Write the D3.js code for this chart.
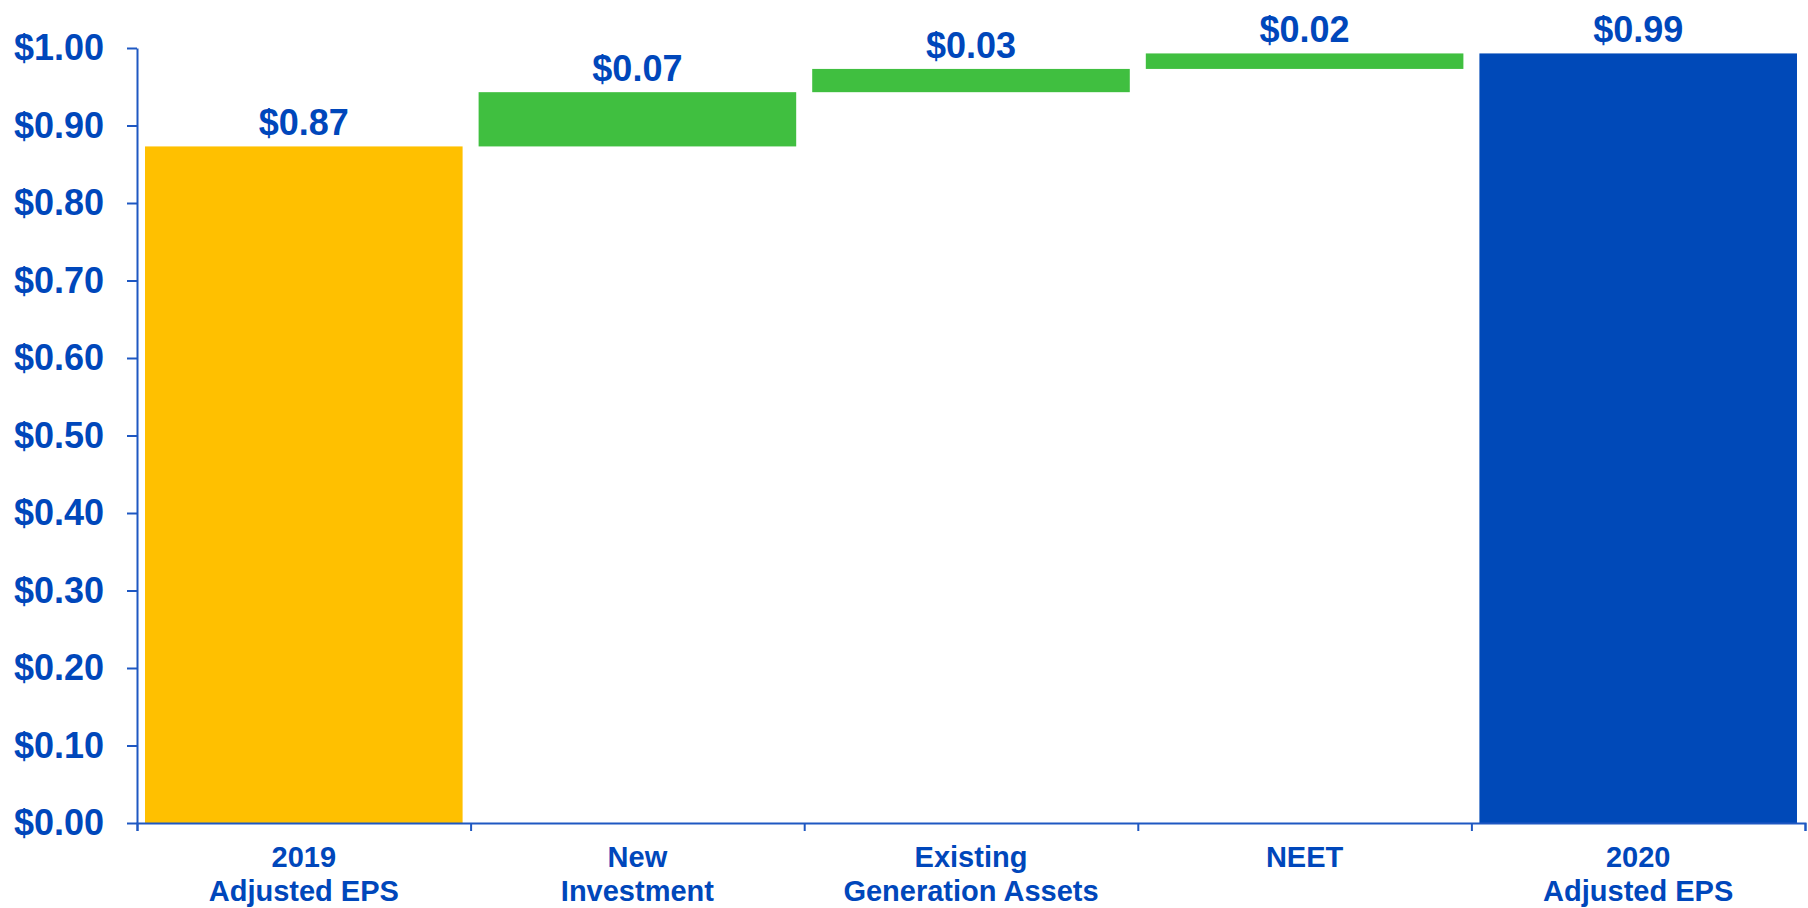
<!DOCTYPE html>
<html>
<head>
<meta charset="utf-8">
<script src="https://cdn.jsdelivr.net/npm/d3@7"></script>
<style>
  body { margin: 0; background: #fff; }
  svg { display: block; font-family: "Liberation Sans", Arial, sans-serif; font-weight: bold; }
</style>
</head>
<body>
<div id="chart"></div>
<script>
/* DATA */
const categories = ["2019\nAdjusted EPS", "New\nInvestment", "Existing\nGeneration Assets", "NEET", "2020\nAdjusted EPS"];
const kinds = ["start", "delta", "delta", "delta", "end"];
const values = [0.873, 0.07, 0.03, 0.02, 0.993];
const yTicks = [0, 0.1, 0.2, 0.3, 0.4, 0.5, 0.6, 0.7, 0.8, 0.9, 1.0];

/* LAYOUT */
const width = 1808, height = 908;
const margin = {top: 48, right: 3, bottom: 85, left: 137};
const blue = "#0047BB";
const colors = {start: "#FFC000", delta: "#40BF40", end: "#0049B8"};

const svg = d3.select("#chart").append("svg")
  .attr("width", width)
  .attr("height", height);

const x = d3.scaleBand()
  .domain(categories)
  .range([margin.left, width - margin.right])
  .padding(0);
const barInset = x.bandwidth() * 0.024; // gap between bar and band edge

const y = d3.scaleLinear()
  .domain([0, 1])
  .range([height - margin.bottom, margin.top]);

// build waterfall steps (running total for the deltas)
let running = 0;
const bars = categories.map((c, i) => {
  let lo, hi;
  if (kinds[i] === "delta") { lo = running; hi = running + values[i]; running = hi; }
  else { lo = 0; hi = values[i]; running = values[i]; }
  return {cat: c, kind: kinds[i], value: values[i], lo, hi};
});

// bars
svg.append("g").selectAll("rect")
  .data(bars)
  .join("rect")
  .attr("x", d => x(d.cat) + barInset)
  .attr("width", x.bandwidth() - 2 * barInset)
  .attr("y", d => y(d.hi))
  .attr("height", d => y(d.lo) - y(d.hi))
  .attr("fill", d => colors[d.kind]);

// value labels
const fmt = d3.format("$.2f");
svg.append("g").selectAll("text")
  .data(bars)
  .join("text")
  .attr("x", d => x(d.cat) + x.bandwidth() / 2)
  .attr("y", d => y(d.hi) - 11)
  .attr("text-anchor", "middle")
  .attr("fill", blue)
  .style("font-size", "36px")
  .text(d => fmt(d.value));

// y axis
const yAxis = svg.append("g")
  .attr("transform", `translate(${margin.left},0)`)
  .call(d3.axisLeft(y).tickValues(yTicks).tickFormat(fmt).tickSize(10).tickSizeOuter(0).tickPadding(23));
yAxis.selectAll("text").attr("fill", blue).style("font-size", "36px").attr("font-family", null);
yAxis.selectAll("path, line").attr("stroke", "#1F58C2").attr("stroke-width", 2);

// x axis: ticks on the band boundaries
const xEdges = d3.scaleLinear().domain([0, categories.length]).range(x.range());
const xAxis = svg.append("g")
  .attr("transform", `translate(0,${y(0)})`)
  .call(d3.axisBottom(xEdges).ticks(categories.length).tickFormat("").tickSize(8).tickSizeOuter(8));
xAxis.selectAll("path, line").attr("stroke", "#1F58C2").attr("stroke-width", 2);

// category labels (two lines)
const catLabels = svg.append("g").selectAll("text")
  .data(categories)
  .join("text")
  .attr("x", d => x(d) + x.bandwidth() / 2)
  .attr("y", y(0) + 44)
  .attr("text-anchor", "middle")
  .attr("fill", blue)
  .style("font-size", "29px");
catLabels.selectAll("tspan")
  .data(d => d.split("\n"))
  .join("tspan")
  .attr("x", function() { return this.parentNode.getAttribute("x"); })
  .attr("dy", (d, i) => i === 0 ? 0 : 34)
  .text(d => d);
</script>
</body>
</html>
